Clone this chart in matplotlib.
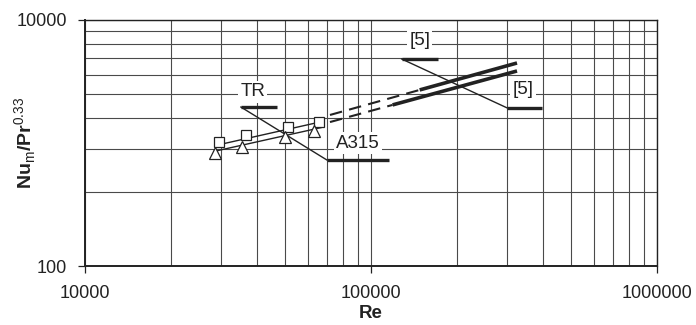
import matplotlib
matplotlib.use('Agg')
import matplotlib.pyplot as plt
from matplotlib.ticker import LogLocator, FixedLocator, NullFormatter

plt.rcParams['font.family'] = ['Liberation Sans', 'DejaVu Sans']
plt.rcParams['mathtext.fontset'] = 'custom'
plt.rcParams['mathtext.rm'] = 'Liberation Sans'
plt.rcParams['mathtext.bf'] = 'Liberation Sans:bold'

INK = '#222222'
GRID = '#4a4a4a'

# measured points
tr_re = [29400, 36600, 51300, 65700]
tr_nu = [1019, 1162, 1350, 1483]
a315_re = [28500, 35400, 50000, 63300]
a315_nu = [830, 927, 1120, 1253]

# fitted lines through the points
tr_fit_re = [29200, 68000]
tr_fit_nu = [965, 1500]
a315_fit_re = [28300, 67000]
a315_fit_nu = [855, 1335]

# correlation [5], dashed where extrapolated
ref5_up_dash_re = [71900, 148000]
ref5_up_dash_nu = [1690, 2700]
ref5_up_re = [148000, 324000]
ref5_up_nu = [2700, 4470]
ref5_lo_dash_re = [71900, 119000]
ref5_lo_dash_nu = [1480, 2040]
ref5_lo_re = [119000, 324000]
ref5_lo_nu = [2040, 3850]

# horizontal grid values as drawn in the source
y_grid = [400, 900, 1600, 2500, 3600, 4900, 6400, 8100]

fig = plt.figure(figsize=(6.96, 3.25), dpi=100)
ax = fig.add_axes([0.122, 0.1815, 0.822, 0.757])
ax.set_xscale('log')
ax.set_yscale('log')
ax.set_xlim(1e4, 1e6)
ax.set_ylim(100, 10000)

ax.xaxis.set_major_locator(FixedLocator([1e4, 1e5, 1e6]))
ax.xaxis.set_minor_locator(LogLocator(base=10, subs=range(2, 10)))
ax.xaxis.set_minor_formatter(NullFormatter())
ax.set_xticks([1e4, 1e5, 1e6], ['10000', '100000', '1000000'])
ax.set_yticks([100, 10000], ['100', '10000'])
ax.yaxis.set_minor_locator(FixedLocator(y_grid))
ax.yaxis.set_minor_formatter(NullFormatter())

ax.grid(True, which='both', color=GRID, lw=0.8)
ax.set_axisbelow(True)
ax.tick_params(which='major', length=5, width=0.9, color=INK, labelsize=13, labelcolor=INK)
ax.tick_params(axis='y', which='major', pad=8)
ax.tick_params(axis='x', which='major', pad=9)
ax.tick_params(which='minor', length=0)
for s in ax.spines.values():
    s.set_color(INK)
    s.set_linewidth(1.0)
ax.spines['left'].set_linewidth(1.4)
ax.spines['bottom'].set_linewidth(1.4)

ax.plot(tr_fit_re, tr_fit_nu, color=INK, lw=1.0, zorder=3)
ax.plot(a315_fit_re, a315_fit_nu, color=INK, lw=1.0, zorder=3)
ax.plot(tr_re, tr_nu, ls='none', marker='s', ms=7, mfc='white', mec=INK, mew=0.9, zorder=4)
ax.plot(a315_re, a315_nu, ls='none', marker='^', ms=8, mfc='white', mec=INK, mew=0.9, zorder=4)

ax.plot(ref5_up_dash_re, ref5_up_dash_nu, color=INK, lw=1.5, ls=(0, (6, 3.5)), zorder=3)
ax.plot(ref5_lo_dash_re, ref5_lo_dash_nu, color=INK, lw=1.5, ls=(0, (6, 3.5)), zorder=3)
ax.plot(ref5_up_re, ref5_up_nu, color=INK, lw=2.6, solid_capstyle='butt', zorder=3)
ax.plot(ref5_lo_re, ref5_lo_nu, color=INK, lw=2.6, solid_capstyle='butt', zorder=3)

# labels with leader lines
box = dict(facecolor='white', edgecolor='none', pad=1.5)
ax.text(38600, 2600, 'TR', fontsize=13.5, color=INK, ha='center', va='center', bbox=box, zorder=5)
ax.plot([35100, 46900], [1960, 1960], color=INK, lw=2.4, solid_capstyle='butt', zorder=5)
ax.plot([35100, 70100], [1960, 728], color=INK, lw=1.0, zorder=3)
ax.plot([70100, 116000], [728, 728], color=INK, lw=2.4, solid_capstyle='butt', zorder=5)
ax.text(90100, 1000, 'A315', fontsize=13.5, color=INK, ha='center', va='center', bbox=box, zorder=5)

ax.text(148000, 6870, '[5]', fontsize=13.5, color=INK, ha='center', va='center', bbox=box, zorder=5)
ax.plot([128000, 171000], [4820, 4820], color=INK, lw=2.4, solid_capstyle='butt', zorder=5)
ax.plot([128000, 299000], [4820, 1930], color=INK, lw=1.0, zorder=3)
ax.plot([299000, 396000], [1930, 1930], color=INK, lw=2.4, solid_capstyle='butt', zorder=5)
ax.text(340000, 2700, '[5]', fontsize=13.5, color=INK, ha='center', va='center', bbox=box, zorder=5)

ax.set_xlabel('Re', fontsize=13.5, fontweight='bold', color=INK)
ax.xaxis.set_label_coords(0.5, -0.16)
ax.set_ylabel(r'$\mathbf{Nu}_{\mathrm{m}}\mathbf{/Pr}^{\mathrm{0.33}}$', fontsize=14, color=INK)
ax.yaxis.set_label_coords(-0.082, 0.5)

fig.savefig('out.png', dpi=100)
